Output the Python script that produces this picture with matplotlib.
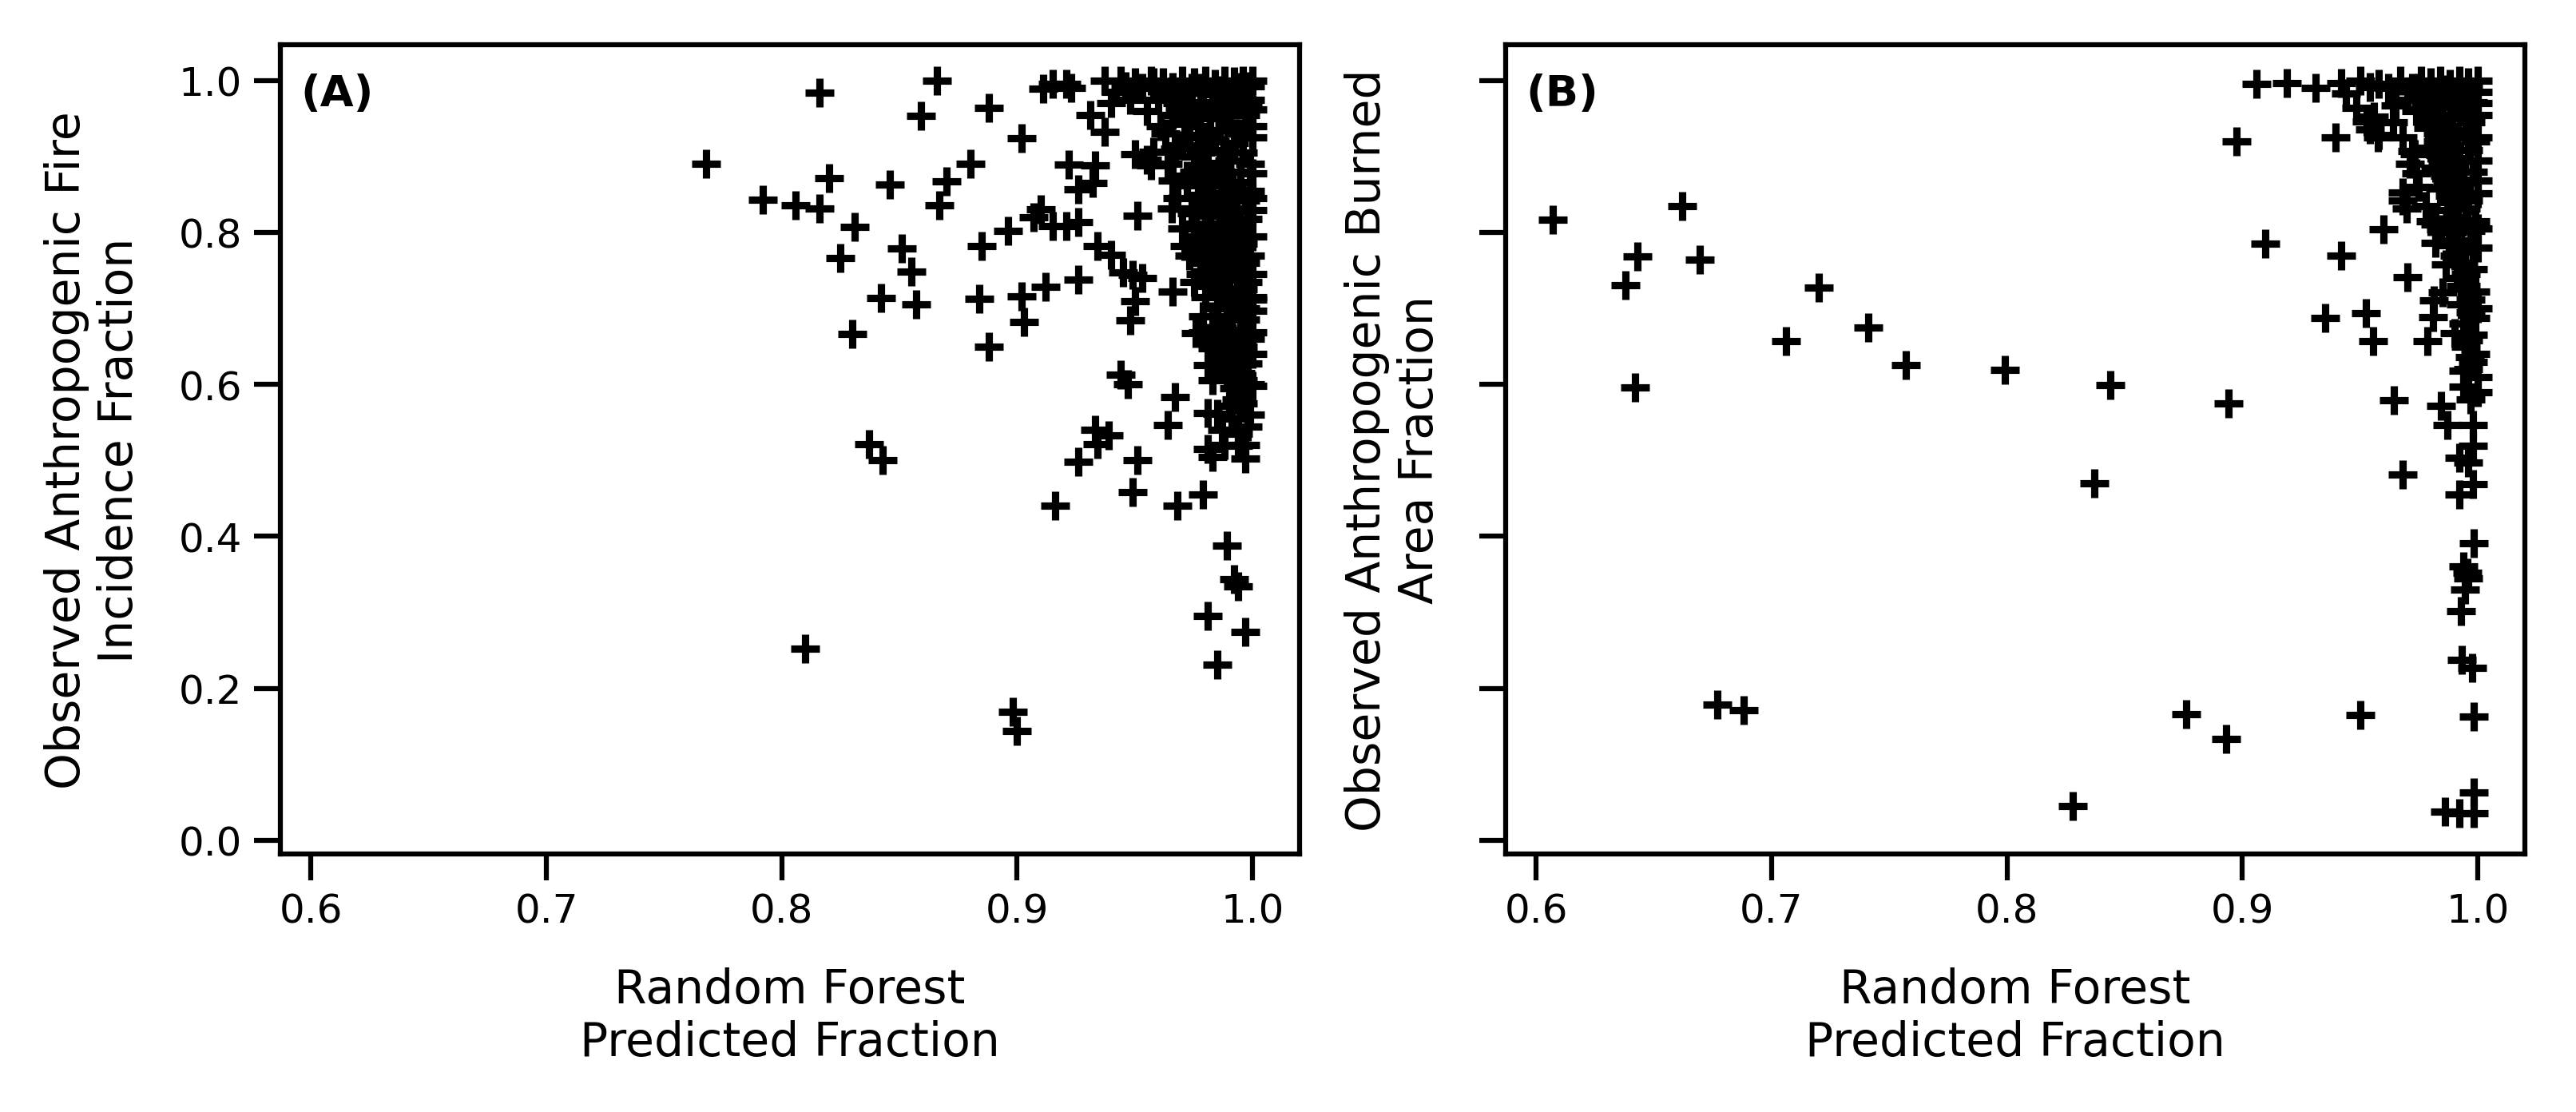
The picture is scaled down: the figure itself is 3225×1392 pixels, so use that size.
import matplotlib
matplotlib.use("Agg")
import matplotlib.pyplot as plt
import numpy as np

# (A) fire incidence: predicted vs observed anthropogenic fraction
fire_pred = [
    0.768, 0.792, 0.806, 0.816, 0.816, 0.820, 0.831, 0.825, 0.830, 0.846,
    0.851, 0.855, 0.842, 0.857, 0.859, 0.866, 0.867, 0.870, 0.880, 0.888,
    0.884, 0.888, 0.885, 0.896, 0.902, 0.902, 0.903, 0.912, 0.910, 0.907,
    0.915, 0.921, 0.926, 0.922, 0.933, 0.926, 0.932, 0.926, 0.934, 0.940,
    0.945, 0.949, 0.953, 0.950, 0.948, 0.944, 0.947, 0.911, 0.915, 0.921,
    0.923, 0.937, 0.944, 0.950, 0.957, 0.931, 0.937, 0.940, 0.951, 0.958,
    0.957, 0.9655, 0.971, 0.966, 0.967, 0.964, 0.933, 0.934, 0.926, 0.951,
    0.949, 0.916, 0.968, 0.979, 0.981, 0.994, 0.999, 0.994, 0.990, 0.985,
    0.981, 0.982, 0.976, 0.837, 0.843, 0.810, 0.898, 0.900, 0.989, 0.992,
    0.994, 0.981, 0.997, 0.985, 0.939,
    0.942, 0.948, 0.955, 0.950, 0.955, 0.960, 0.962, 0.961,
    0.970, 0.975, 0.980, 0.984, 0.988, 0.992, 0.996, 1.000, 0.999, 0.972,
    0.978, 0.983, 0.987, 0.991, 0.995, 0.999, 0.968, 0.974, 0.979, 0.985,
    0.989, 0.993, 0.997, 1.000, 0.971, 0.977, 0.982, 0.986, 0.990, 0.994,
    0.998, 0.973, 0.979, 0.984, 0.988, 0.992, 0.996, 1.000, 0.976, 0.981,
    0.986, 0.990, 0.995, 0.999, 0.965, 0.966,
    0.978, 0.983, 0.987, 0.991, 0.995, 0.999, 0.980, 0.985, 0.989, 0.993,
    0.997, 1.000, 0.982, 0.986, 0.990, 0.994, 0.998, 0.983, 0.988, 0.992,
    0.996, 1.000, 0.985, 0.989, 0.993, 0.997, 0.999, 0.9865, 0.982, 0.975,
    0.979,
    0.986, 0.990, 0.994, 0.998, 0.988, 0.992, 0.996, 1.000, 0.985, 0.989,
    0.993, 0.997, 0.987, 0.991, 0.995, 0.999, 0.988, 0.992, 0.996, 1.000,
    0.990, 0.995, 0.998, 0.983, 0.986, 1.000, 1.000, 1.000, 0.979, 0.981,
    0.983, 0.997, 0.991, 0.996, 0.983, 0.981, 0.987, 0.993, 0.998, 0.979,
    0.962, 0.966, 0.969, 0.973, 0.977, 0.970, 0.975, 0.972, 0.977, 0.976,
    0.980, 0.978, 0.981, 0.983, 0.984, 0.985, 0.983, 0.986, 0.989, 0.992,
    0.996, 0.999, 0.994, 0.997, 0.988, 1.000, 1.000, 1.000, 1.000, 1.000,
    0.998, 0.994, 0.990, 0.986, 0.982, 0.978, 0.983, 0.987, 0.991, 0.995,
    0.997, 0.993, 0.990, 0.986, 0.974, 0.958, 0.953, 0.946,
    0.972, 0.968, 0.974, 0.970, 0.976, 0.973, 0.978, 0.975, 0.980, 0.966,
    0.963, 0.967, 0.964,
]
fire_obs = [
    0.890, 0.843, 0.836, 0.832, 0.984, 0.872, 0.807, 0.766, 0.667, 0.863,
    0.779, 0.749, 0.714, 0.705, 0.954, 1.000, 0.836, 0.867, 0.891, 0.964,
    0.713, 0.650, 0.782, 0.802, 0.924, 0.716, 0.682, 0.729, 0.831, 0.820,
    0.808, 0.808, 0.814, 0.889, 0.888, 0.857, 0.865, 0.738, 0.782, 0.771,
    0.748, 0.744, 0.740, 0.710, 0.684, 0.613, 0.600, 0.989, 0.996, 0.996,
    0.990, 1.000, 1.000, 0.998, 1.000, 0.955, 0.933, 0.970, 0.822, 0.906,
    0.888, 0.832, 0.782, 0.722, 0.583, 0.547, 0.540, 0.521, 0.498, 0.500,
    0.458, 0.440, 0.440, 0.455, 0.515, 0.519, 0.600, 0.615, 0.572, 0.561,
    0.625, 0.661, 0.668, 0.521, 0.500, 0.252, 0.169, 0.144, 0.388, 0.344,
    0.334, 0.295, 0.274, 0.231, 0.533,
    0.985, 0.975, 0.960, 0.903, 0.896, 0.975, 0.990, 0.940,
    1.000, 0.998, 1.000, 0.996, 1.000, 0.999, 1.000, 1.000, 0.993, 0.985,
    0.990, 0.982, 0.987, 0.978, 0.984, 0.975, 0.970, 0.962, 0.972, 0.965,
    0.958, 0.968, 0.955, 0.962, 0.948, 0.940, 0.950, 0.935, 0.944, 0.930,
    0.940, 0.925, 0.915, 0.920, 0.908, 0.918, 0.905, 0.925, 0.900, 0.892,
    0.885, 0.895, 0.880, 0.890, 0.985, 0.955,
    0.870, 0.862, 0.872, 0.858, 0.866, 0.855, 0.845, 0.838, 0.848, 0.832,
    0.842, 0.830, 0.822, 0.812, 0.825, 0.808, 0.818, 0.798, 0.790, 0.800,
    0.785, 0.795, 0.775, 0.765, 0.778, 0.760, 0.770, 0.758, 0.786, 0.812,
    0.760,
    0.745, 0.738, 0.748, 0.735, 0.722, 0.712, 0.725, 0.715, 0.700, 0.690,
    0.702, 0.685, 0.675, 0.665, 0.672, 0.660, 0.648, 0.638, 0.650, 0.640,
    0.625, 0.615, 0.628, 0.648, 0.626, 0.669, 0.697, 0.712, 0.690, 0.730,
    0.505, 0.520, 0.555, 0.605, 0.605, 0.562, 0.540, 0.580, 0.545, 0.669,
    0.998, 0.992, 0.962, 0.943, 0.928, 0.915, 0.880, 0.862, 0.850, 0.832,
    0.808, 0.795, 0.775, 0.752, 0.735, 0.718, 0.690, 0.663, 0.610, 0.595,
    0.575, 0.560, 0.535, 0.502, 0.520, 0.598, 0.745, 0.845, 0.878, 0.940,
    0.965, 0.992, 0.985, 0.950, 0.935, 0.905, 0.875, 0.825, 0.790, 0.755,
    0.700, 0.650, 0.690, 0.775, 0.990, 0.998, 0.990, 0.993,
    0.875, 0.845, 0.825, 0.805, 0.790, 0.770, 0.745, 0.735, 0.715, 0.868,
    0.930, 0.910, 0.890,
]

# (B) burned area: predicted vs observed anthropogenic fraction
area_pred = [
    0.607, 0.662, 0.643, 0.638, 0.6695, 0.642, 0.720, 0.706, 0.741, 0.757,
    0.799, 0.844, 0.837, 0.894, 0.9096, 0.8976, 0.677, 0.688, 0.876, 0.893,
    0.828, 0.950, 0.906, 0.919, 0.931, 0.942, 0.950, 0.944, 0.954, 0.9485,
    0.954, 0.9576, 0.9395, 0.942, 0.935, 0.9525, 0.9555, 0.960, 0.9645, 0.968,
    0.970, 0.968, 0.972, 0.973, 0.974, 0.968, 0.9696, 0.965, 0.967, 0.956,
    0.958, 0.9527,
    0.9786, 0.9842, 0.987, 0.992, 0.992, 0.9983, 0.9955, 0.9944, 0.9927, 0.9932,
    0.9977, 0.9983, 0.9983, 0.986, 0.992, 0.9983, 0.998, 0.998, 0.996, 0.998,
    0.994, 0.9966, 0.994, 0.981, 0.9814, 0.985, 0.990, 0.9865, 0.982, 0.9842,
    0.9876, 0.982, 0.994, 0.996,
    0.976, 0.980, 0.984, 0.988, 0.992, 0.996, 1.000, 0.978, 0.982, 0.986,
    0.990, 0.994, 0.998, 1.000, 0.977, 0.981, 0.985, 0.989, 0.993, 0.997,
    1.000, 0.979, 0.983, 0.987, 0.991, 0.995, 0.999, 0.980, 0.984, 0.988,
    0.992, 0.996, 1.000, 0.982, 0.986, 0.990, 0.994, 0.998, 0.984, 0.988,
    0.992, 0.996, 1.000, 0.987, 0.991, 0.995, 0.999, 0.989, 0.993, 0.997,
    1.000, 0.990, 0.994, 0.998, 0.991, 0.995, 0.999, 0.993, 0.997, 1.000,
    0.994, 0.998, 0.995, 0.999, 0.996, 1.000, 0.972, 0.974, 0.970,
    0.975, 0.978, 0.981, 0.983, 0.985, 0.987, 0.989, 0.991, 0.993, 0.995,
    0.997, 0.999, 0.996, 0.998, 1.000, 0.997, 1.000, 1.000, 1.000, 1.000,
    0.996, 0.992, 0.988, 0.984, 0.990, 0.993, 0.962, 0.958, 0.964, 0.968,
    0.971, 0.975, 0.978, 0.980,
]
area_obs = [
    0.817, 0.835, 0.769, 0.731, 0.764, 0.596, 0.728, 0.657, 0.675, 0.626,
    0.619, 0.599, 0.470, 0.575, 0.785, 0.920, 0.178, 0.171, 0.166, 0.133,
    0.045, 0.165, 0.996, 0.997, 0.990, 0.997, 1.000, 0.983, 0.992, 0.964,
    0.936, 0.925, 0.925, 0.770, 0.688, 0.694, 0.657, 0.804, 0.579, 0.481,
    0.741, 0.842, 0.907, 0.903, 0.878, 0.853, 0.832, 0.967, 1.000, 0.953,
    0.928, 0.946,
    0.657, 0.572, 0.547, 0.504, 0.455, 0.3905, 0.352, 0.330, 0.3015, 0.2375,
    0.2268, 0.1627, 0.063, 0.038, 0.035, 0.035, 0.547, 0.519, 0.497, 0.469,
    0.618, 0.636, 0.597, 0.689, 0.711, 0.7215, 0.668, 0.758, 0.786, 0.804,
    0.783, 0.811, 0.360, 0.345,
    1.000, 0.998, 1.000, 0.996, 1.000, 0.998, 1.000, 0.985, 0.978, 0.988,
    0.975, 0.985, 0.972, 0.985, 0.962, 0.955, 0.965, 0.950, 0.960, 0.945,
    0.955, 0.938, 0.930, 0.940, 0.925, 0.935, 0.920, 0.912, 0.902, 0.915,
    0.898, 0.908, 0.895, 0.885, 0.875, 0.888, 0.870, 0.880, 0.858, 0.848,
    0.860, 0.842, 0.852, 0.830, 0.820, 0.832, 0.815, 0.800, 0.790, 0.802,
    0.780, 0.770, 0.760, 0.752, 0.740, 0.730, 0.722, 0.705, 0.695, 0.700,
    0.680, 0.665, 0.650, 0.640, 0.620, 0.610, 0.990, 0.960, 0.975,
    0.990, 0.970, 0.945, 0.920, 0.895, 0.865, 0.840, 0.812, 0.775, 0.745,
    0.712, 0.688, 0.658, 0.630, 0.590, 0.580, 0.805, 0.868, 0.925, 0.970,
    0.988, 0.968, 0.928, 0.880, 0.790, 0.730, 0.990, 0.996, 0.945, 0.925,
    0.890, 0.860, 0.835, 0.815,
]

panel_letters = ["(A)", "(B)"]
xlabel = "Random Forest\nPredicted Fraction"
ylabels = ["Observed Anthropogenic Fire\nIncidence Fraction",
           "Observed Anthropogenic Burned\nArea Fraction"]
xticks = [0.6, 0.7, 0.8, 0.9, 1.0]
yticks = [0.0, 0.2, 0.4, 0.6, 0.8, 1.0]

plt.rcParams["font.family"] = ["DejaVu Sans"]

fig, axes = plt.subplots(1, 2, figsize=(10.753, 4.643), dpi=300,
                         sharex=True, sharey=True)
fig.subplots_adjust(left=0.1088, right=0.9799, bottom=0.232, top=0.959,
                    wspace=0.202)

series = [(fire_pred, fire_obs), (area_pred, area_obs)]
for ax, (xs, ys), letter, ylab in zip(axes, series, panel_letters, ylabels):
    ax.scatter(xs, ys, marker="+", s=75, linewidths=2.2, c="black")
    ax.text(0.02, 0.94, letter, transform=ax.transAxes, fontsize=13,
            fontweight="bold", va="center", ha="left")
    ax.set_xlabel(xlabel, fontsize=14, labelpad=11)
    ax.set_ylabel(ylab, fontsize=14, labelpad=11)
    ax.tick_params(labelsize=12, length=8, width=1.5)
    for sp in ax.spines.values():
        sp.set_linewidth(1.5)

axes[0].set_xticks(xticks)
axes[0].set_yticks(yticks)
axes[0].set_xlim(0.587, 1.02)
axes[0].set_ylim(-0.018, 1.047)

fig.savefig("out.png", dpi=300)
